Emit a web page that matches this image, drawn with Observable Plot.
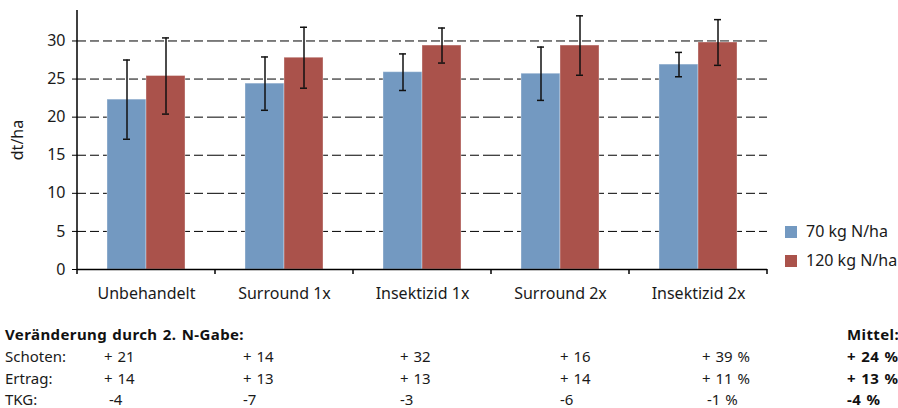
<!DOCTYPE html>
<html>
<head>
<meta charset="utf-8">
<script src="https://cdn.jsdelivr.net/npm/d3@7"></script>
<script src="https://cdn.jsdelivr.net/npm/@observablehq/plot@0.6"></script>
<style>
  html, body { margin: 0; padding: 0; background: #fff; }
  #wrap { position: relative; width: 898px; height: 408px; overflow: hidden; font-family: "Noto Sans", sans-serif; color: #1a1a1a; }
  #chart { position: absolute; left: 0; top: 0; }
  .leg { position: absolute; left: 785px; font-size: 16px; line-height: 16px; white-space: nowrap; }
  .leg i { position: absolute; left: 0; top: 2px; width: 12px; height: 12px; }
  .leg span { position: absolute; left: 21px; top: -1px; }
  .t { position: absolute; font-size: 15px; line-height: 15px; white-space: pre; word-spacing: 1px; }
  .b { font-weight: bold; color: #111; letter-spacing: 0.4px; }
</style>
</head>
<body>
<div id="wrap">
  <div id="chart"></div>
</div>
<script>
const categories = ["Unbehandelt", "Surround 1x", "Insektizid 1x", "Surround 2x", "Insektizid 2x"];
const series = ["70 kg N/ha", "120 kg N/ha"];
const yield70 = [22.3, 24.4, 25.9, 25.7, 26.9];
const yield120 = [25.4, 27.8, 29.4, 29.4, 29.8];
const err70 = [5.2, 3.5, 2.4, 3.5, 1.6];
const err120 = [5.0, 4.0, 2.3, 3.9, 3.0];
const yTicks = [0, 5, 10, 15, 20, 25, 30];
const gridTicks = [5, 10, 15, 20, 25, 30];
const colors = ["#7399C1", "#AA524B"];

const tableTitle = "Veränderung durch 2. N-Gabe:";
const meanTitle = "Mittel:";
const rowLabels = ["Schoten:", "Ertrag:", "TKG:"];
const schoten = ["+ 21", "+ 14", "+ 32", "+ 16", "+ 39 %"];
const ertrag = ["+ 14", "+ 13", "+ 13", "+ 14", "+ 11 %"];
const tkg = [" -4", "-7", "-3", "-6", " -1 %"];
const means = ["+ 24 %", "+ 13 %", "-4 %"];

const data = [];
categories.forEach((c, i) => {
  data.push({cat: c, series: series[0], value: yield70[i], err: err70[i]});
  data.push({cat: c, series: series[1], value: yield120[i], err: err120[i]});
});

const chart = Plot.plot({
  width: 898,
  height: 318,
  marginLeft: 75,
  marginRight: 130,
  marginTop: 10,
  marginBottom: 49,
  style: {fontFamily: "'Noto Sans', sans-serif", fontSize: "16px", color: "#1a1a1a", background: "transparent"},
  fx: {domain: categories, padding: 0, label: null},
  x: {domain: series, paddingInner: 0, paddingOuter: 0.73, axis: null},
  y: {domain: [0, 34]},
  color: {domain: series, range: colors},
  marks: [
    Plot.ruleY(gridTicks, {stroke: "#000", strokeWidth: 1, strokeDasharray: "9,4"}),
    Plot.barY(data, {fx: "cat", x: "series", y: "value", fill: "series", stroke: "#fff", strokeOpacity: 0.35, strokeWidth: 1}),
    Plot.ruleX(data, {fx: "cat", x: "series", y1: d => d.value - d.err, y2: d => d.value + d.err, stroke: "#111", strokeWidth: 1.5}),
    Plot.tickY(data, {fx: "cat", x: "series", y: d => d.value + d.err, stroke: "#111", strokeWidth: 1.5, insetLeft: 16, insetRight: 16}),
    Plot.tickY(data, {fx: "cat", x: "series", y: d => d.value - d.err, stroke: "#111", strokeWidth: 1.5, insetLeft: 16, insetRight: 16}),
    Plot.ruleY([0], {stroke: "#000", strokeWidth: 1.5}),
    Plot.axisY({ticks: yTicks, tickSize: 5, tickPadding: 7, fontSize: 16, label: "dt/ha", labelAnchor: "center", labelOffset: 66, labelArrow: "none", stroke: "#000"}),
    Plot.axisFx({anchor: "bottom", tickSize: 0, tickPadding: 18, fontSize: 16, label: null})
  ]
});

// axis line on the left and category boundary ticks, from Plot's own scales
const fx = chart.scale("fx");
const ys = chart.scale("y");
const y0 = ys.apply(0);
const yTop = ys.apply(34);
const edges = categories.map(c => fx.apply(c)).concat([fx.apply(categories[categories.length - 1]) + fx.bandwidth]);
const svg = d3.select(chart);
const g = svg.append("g").attr("stroke", "#000").attr("stroke-width", 1.5);
g.append("line").attr("x1", edges[0]).attr("x2", edges[0]).attr("y1", y0).attr("y2", yTop);
g.selectAll("line.e").data(edges).join("line").attr("class", "e")
  .attr("x1", d => d).attr("x2", d => d).attr("y1", y0).attr("y2", y0 + 5);

const wrap = document.getElementById("wrap");
document.getElementById("chart").appendChild(chart);

// legend
series.forEach((s, i) => {
  const d = document.createElement("div");
  d.className = "leg";
  d.style.top = (224 + i * 29) + "px";
  d.innerHTML = `<i style="background:${colors[i]}"></i><span>${s}</span>`;
  wrap.appendChild(d);
});

// table below chart
function put(text, left, top, bold) {
  const d = document.createElement("div");
  d.className = "t" + (bold ? " b" : "");
  d.style.left = left + "px";
  d.style.top = top + "px";
  d.textContent = text;
  wrap.appendChild(d);
}
const colX = [104, 243, 400, 560, 702];
const meanX = 847;
const rowTop = [349, 371, 392];
put(tableTitle, 5, 327, true);
put(meanTitle, meanX, 327, true);
[schoten, ertrag, tkg].forEach((row, r) => {
  put(rowLabels[r], 5, rowTop[r], false);
  row.forEach((v, j) => put(v, colX[j], rowTop[r], false));
  put(means[r], meanX, rowTop[r], true);
});
</script>
</body>
</html>
